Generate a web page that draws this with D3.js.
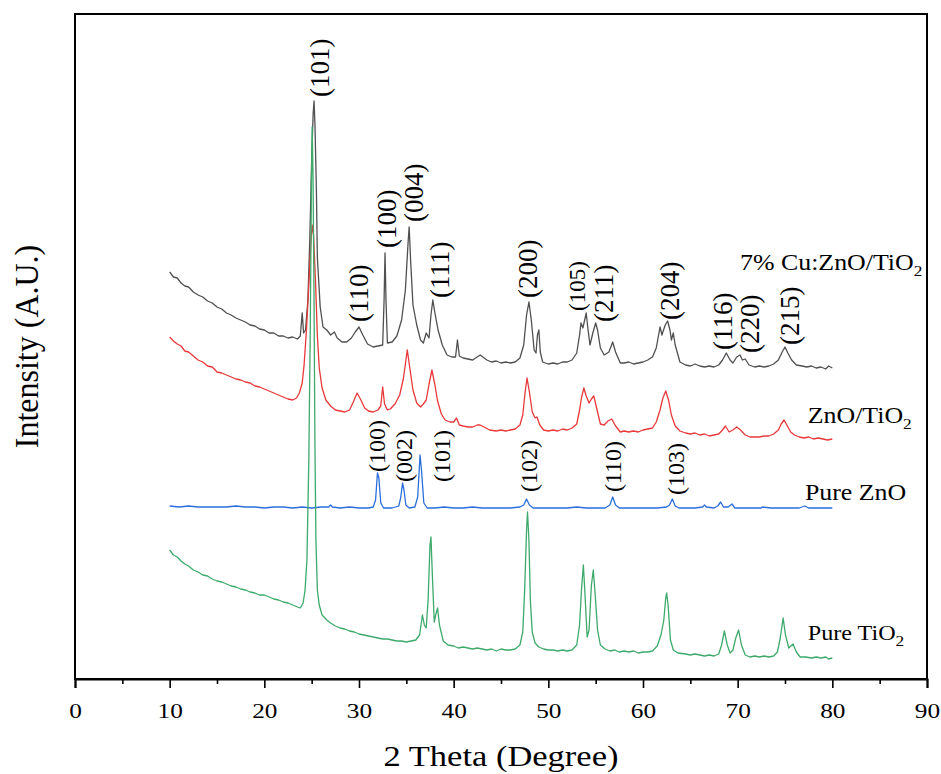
<!DOCTYPE html>
<html><head><meta charset="utf-8">
<script src="https://cdn.jsdelivr.net/npm/d3@7/dist/d3.min.js"></script>
<style>
body{margin:0;background:#fff}
svg text{font-family:"Liberation Serif","Times New Roman",serif;fill:#000}
</style>
</head><body>
<svg id="chart" width="941" height="774"></svg>
<script>
// ---------- data ----------
const xTicks = [0,10,20,30,40,50,60,70,80,90];
const xMinorTicks = [5,15,25,35,45,55,65,75,85];
const xTitle = "2 Theta (Degree)";
const yTitle = "Intensity (A.U.)";

const seriesNames = ["7% Cu:ZnO/TiO", "ZnO/TiO", "Pure ZnO", "Pure TiO"];
const seriesSubs  = ["2", "2", "", "2"];
const seriesColors = ["#505050", "#e8393a", "#2a6fdb", "#3daa6b"];
const seriesLabelTheta = [70.25, 77.4, 77.1, 77.4];
const seriesLabelIntensity = [81.8, 51.2, 35.8, 7.8];

// [2theta, intensity (a.u., stacked)]
const cuZnOTiO2 = [
[10.0,81.4],[10.4,80.4],[10.8,80.2],[11.2,79.2],[11.6,78.6],[12.0,78.4],[12.5,77.4],[13.0,76.8],[13.5,76.4],[14.0,75.6],
[14.5,75.2],[15.0,74.4],[15.5,74.0],[16.0,73.2],[16.5,72.8],[17.0,72.2],[17.5,71.8],[18.0,71.4],[18.5,70.8],[19.0,70.6],
[19.5,70.0],[20.0,69.8],[20.5,69.2],[21.0,69.2],[21.5,68.6],[22.0,68.6],[22.5,68.2],[23.0,68.4],[23.5,68.0],[23.8,68.6],
[24.0,73.2],[24.15,69.2],[24.35,69.8],[24.6,75.8],[24.8,87.8],[25.0,103.8],[25.15,112.8],[25.25,115.6],[25.35,110.8],[25.5,97.8],
[25.6,84.4],[25.9,74.4],[26.2,70.4],[26.6,69.8],[27.0,68.8],[27.4,69.4],[27.7,68.2],[28.2,67.4],[28.7,67.4],[29.2,68.2],
[29.6,69.4],[30.0,70.4],[30.4,68.8],[30.9,67.0],[31.5,66.4],[32.0,66.6],[32.5,66.8],[32.65,75.8],[32.75,85.2],[32.85,75.8],
[33.0,67.2],[33.5,67.4],[34.0,68.6],[34.5,71.8],[34.9,77.8],[35.2,87.8],[35.3,90.4],[35.45,83.8],[35.7,74.8],[36.1,70.8],
[36.5,67.8],[36.8,67.2],[37.1,69.2],[37.4,68.2],[37.6,72.8],[37.8,75.8],[38.0,73.4],[38.35,69.8],[38.8,66.8],[39.3,64.8],
[39.8,64.4],[40.2,64.4],[40.4,67.8],[40.6,64.6],[41.0,64.2],[41.5,64.0],[42.0,63.8],[42.8,64.8],[43.5,63.8],[44.0,63.4],
[44.5,63.6],[45.0,63.2],[45.5,63.4],[46.0,63.2],[46.5,63.4],[47.0,64.2],[47.4,66.8],[47.7,72.8],[47.95,75.4],[48.2,71.8],
[48.5,65.8],[48.7,65.2],[48.85,68.8],[49.0,69.8],[49.15,65.4],[49.4,63.4],[50.0,63.0],[50.5,63.2],[51.0,63.0],[51.5,63.4],
[52.0,63.4],[52.5,63.8],[53.0,65.2],[53.3,68.8],[53.45,71.2],[53.65,70.2],[54.0,73.2],[54.2,69.8],[54.4,66.8],[54.7,69.2],
[55.0,71.2],[55.2,69.8],[55.5,66.2],[55.9,64.8],[56.4,65.4],[56.8,67.4],[57.1,65.4],[57.6,63.2],[58.0,63.2],[58.5,63.4],
[59.0,63.0],[59.5,63.2],[60.0,63.4],[60.5,63.8],[61.0,64.4],[61.4,66.2],[61.8,70.4],[62.0,68.8],[62.1,69.4],[62.35,70.8],
[62.6,71.6],[62.85,69.8],[63.0,67.8],[63.2,69.2],[63.4,66.8],[63.9,63.4],[64.5,62.8],[65.0,62.6],[65.5,63.0],[66.0,62.6],
[66.5,62.4],[67.0,62.6],[67.5,62.4],[68.0,62.8],[68.4,63.8],[68.8,65.2],[69.2,63.8],[69.5,63.2],[69.9,64.4],[70.25,64.8],
[70.5,63.8],[70.8,64.0],[71.2,62.8],[71.8,62.4],[72.3,62.6],[72.8,62.4],[73.3,62.6],[73.8,63.0],[74.3,63.8],[74.7,65.4],
[75.0,66.4],[75.3,65.2],[75.7,63.8],[76.2,62.8],[76.8,62.6],[77.3,62.4],[77.8,62.6],[78.3,62.2],[78.8,62.4],[79.3,62.0],
[79.6,62.6],[80.0,62.2]
];

const znoTiO2 = [
[10.0,68.4],[10.4,67.6],[10.8,67.0],[11.2,66.6],[11.6,65.6],[12.0,65.4],[12.5,64.6],[13.0,63.8],[13.5,63.4],[14.0,62.6],
[14.5,62.4],[15.0,61.4],[15.5,61.2],[16.0,60.8],[16.5,60.4],[17.0,60.0],[17.5,59.8],[18.0,59.4],[18.5,59.2],[19.0,58.6],
[19.5,58.4],[20.0,58.0],[20.5,57.6],[21.0,57.2],[21.5,56.8],[22.0,56.4],[22.5,56.0],[23.0,55.8],[23.4,56.2],[23.7,57.2],
[24.0,59.2],[24.2,62.8],[24.45,69.8],[24.7,78.8],[24.9,86.8],[25.05,90.8],[25.2,88.8],[25.4,79.8],[25.6,68.8],[25.8,62.2],
[26.1,58.2],[26.5,55.8],[27.0,54.6],[27.5,53.8],[28.0,53.6],[28.5,53.4],[29.0,53.8],[29.4,55.4],[29.8,57.2],[30.2,55.8],
[30.6,54.2],[31.0,53.6],[31.5,53.4],[32.0,53.8],[32.3,54.6],[32.5,58.4],[32.7,55.0],[33.0,53.8],[33.3,54.0],[33.8,55.0],
[34.3,56.8],[34.7,60.2],[35.1,65.8],[35.4,61.8],[35.7,57.8],[36.1,55.2],[36.5,54.4],[36.8,55.0],[37.1,55.8],[37.4,59.0],
[37.7,61.8],[38.0,59.0],[38.3,55.6],[38.7,53.0],[39.1,51.8],[39.6,51.4],[40.0,51.4],[40.3,52.2],[40.6,50.8],[41.0,50.6],
[41.5,50.4],[42.0,50.4],[42.5,50.8],[42.8,50.8],[43.2,50.4],[43.8,49.8],[44.5,49.6],[45.0,49.8],[45.5,49.6],[46.0,49.8],
[46.5,50.0],[47.0,50.8],[47.3,52.8],[47.55,57.4],[47.75,60.2],[48.0,57.4],[48.3,53.4],[48.6,52.2],[48.8,52.4],[49.1,50.8],
[49.5,49.8],[50.0,49.6],[50.5,49.8],[51.0,49.6],[51.5,50.0],[52.0,49.8],[52.5,50.2],[53.0,51.0],[53.3,53.8],[53.5,56.2],
[53.75,58.2],[54.0,56.6],[54.3,55.2],[54.55,56.0],[54.8,56.6],[55.1,54.2],[55.5,51.0],[55.9,50.8],[56.3,51.6],[56.7,52.0],
[57.1,50.6],[57.6,49.4],[58.0,49.6],[58.5,49.4],[59.0,49.6],[59.5,49.4],[60.0,49.8],[60.5,50.0],[61.0,50.2],[61.4,51.4],
[61.8,53.8],[62.1,56.2],[62.4,57.6],[62.7,55.8],[63.0,52.8],[63.4,50.6],[63.9,49.6],[64.5,49.2],[65.0,49.0],[65.5,49.2],
[66.0,48.8],[66.5,49.0],[67.0,48.6],[67.5,48.8],[68.0,49.0],[68.4,49.8],[68.7,50.6],[69.1,49.4],[69.5,49.8],[69.9,50.4],
[70.3,49.8],[70.8,48.8],[71.3,48.4],[71.8,48.4],[72.3,48.4],[72.8,48.6],[73.3,48.6],[73.8,49.0],[74.3,49.8],[74.6,51.0],
[74.9,51.8],[75.2,50.8],[75.6,49.4],[76.0,48.8],[76.5,48.4],[77.0,48.2],[77.5,48.4],[78.0,48.0],[78.5,48.2],[79.0,48.0],
[79.5,47.8],[80.0,48.0]
];

const pureZnO = [
[10.0,34.6],[11.0,34.4],[12.0,34.6],[13.0,34.4],[14.0,34.4],[15.0,34.4],[16.0,34.4],[17.0,34.6],[18.0,34.4],[19.0,34.4],
[20.0,34.2],[21.0,34.4],[22.0,34.4],[23.0,34.2],[24.0,34.4],[25.0,34.2],[26.0,34.4],[26.8,34.4],[27.0,34.8],[27.2,34.4],
[28.0,34.2],[29.0,34.4],[30.0,34.2],[31.0,34.2],[31.5,34.4],[31.75,35.8],[31.95,41.2],[32.1,40.2],[32.3,35.2],[32.6,34.2],
[33.5,34.2],[34.2,34.6],[34.4,36.2],[34.6,39.2],[34.75,37.8],[34.95,34.8],[35.3,34.2],[35.9,34.4],[36.2,36.4],[36.45,44.8],
[36.6,41.8],[36.85,35.2],[37.2,34.2],[38.0,34.2],[39.0,34.4],[40.0,34.2],[41.0,34.2],[42.0,34.4],[43.0,34.2],[44.0,34.2],
[45.0,34.2],[46.0,34.2],[47.0,34.4],[47.4,34.8],[47.7,36.0],[48.0,34.8],[48.4,34.2],[49.0,34.2],[50.0,34.2],[51.0,34.2],
[52.0,34.2],[53.0,34.4],[54.0,34.2],[55.0,34.2],[56.0,34.2],[56.5,34.8],[56.8,36.4],[57.1,34.8],[57.5,34.2],[58.5,34.2],
[59.5,34.2],[60.5,34.2],[61.5,34.2],[62.5,34.4],[62.8,34.8],[63.1,36.0],[63.4,34.6],[63.8,34.2],[64.5,34.2],[65.5,34.2],
[66.3,34.4],[66.5,34.8],[66.7,34.4],[67.5,34.2],[67.9,34.6],[68.2,35.4],[68.5,34.4],[69.0,34.4],[69.4,35.0],[69.7,34.2],
[70.5,34.2],[71.5,34.2],[72.5,34.2],[72.6,34.4],[73.5,34.2],[74.5,34.2],[75.5,34.2],[76.5,34.2],[77.1,34.6],[77.5,34.2],
[78.5,34.2],[79.5,34.2],[80.0,34.2]
];

const pureTiO2 = [
[10.0,25.8],[10.4,24.8],[10.8,24.4],[11.2,23.6],[11.6,23.0],[12.0,22.6],[12.5,21.8],[13.0,21.4],[13.5,20.8],[14.0,20.6],
[14.5,20.0],[15.0,19.6],[15.5,19.4],[16.0,19.0],[16.5,18.6],[17.0,18.4],[17.5,18.0],[18.0,17.8],[18.5,17.4],[19.0,17.2],
[19.5,16.8],[20.0,16.8],[20.5,16.4],[21.0,16.0],[21.5,15.8],[22.0,15.4],[22.5,15.2],[23.0,14.8],[23.5,14.4],[23.8,14.2],
[24.1,15.2],[24.3,17.8],[24.5,23.8],[24.7,43.8],[24.85,69.8],[24.98,99.8],[25.05,110.4],[25.15,99.8],[25.25,75.8],[25.35,45.8],
[25.45,27.8],[25.6,17.8],[25.8,14.8],[26.1,12.8],[26.6,11.8],[27.0,11.2],[27.5,10.6],[28.0,10.2],[28.5,10.0],[29.0,9.6],
[29.5,9.4],[30.0,9.0],[30.5,8.8],[31.0,8.6],[31.5,8.4],[32.0,8.2],[32.5,8.0],[33.0,8.0],[33.5,7.8],[34.0,7.6],
[34.5,7.6],[35.0,7.4],[35.5,7.6],[36.0,7.8],[36.4,8.8],[36.7,12.8],[36.9,10.8],[37.1,10.2],[37.3,15.8],[37.5,26.8],
[37.6,28.4],[37.75,20.8],[37.95,11.4],[38.1,12.8],[38.3,14.2],[38.5,10.8],[38.9,7.6],[39.4,6.8],[40.0,6.6],[40.5,6.2],
[41.0,6.4],[41.5,6.2],[42.0,6.0],[42.5,6.2],[43.0,6.0],[43.5,5.8],[44.0,6.0],[44.5,5.6],[45.0,6.0],[45.5,5.8],
[46.0,5.8],[46.5,6.0],[47.0,6.8],[47.3,9.4],[47.5,17.8],[47.7,29.8],[47.8,33.4],[47.95,27.8],[48.1,15.8],[48.3,9.4],
[48.6,7.2],[49.0,6.4],[49.5,6.0],[50.0,5.8],[50.5,5.8],[51.0,5.6],[51.5,5.8],[52.0,5.6],[52.5,5.8],[53.0,6.8],
[53.3,10.8],[53.5,17.8],[53.7,22.8],[53.85,17.8],[54.1,8.4],[54.3,9.8],[54.55,18.8],[54.75,21.8],[54.95,16.8],[55.2,9.8],
[55.5,6.8],[56.0,6.0],[56.5,5.6],[57.0,5.8],[57.5,5.4],[58.0,5.6],[58.5,5.4],[59.0,5.6],[59.5,5.2],[60.0,5.4],
[60.5,5.4],[61.0,5.6],[61.5,6.6],[61.9,8.8],[62.2,11.8],[62.4,16.2],[62.5,17.2],[62.65,14.8],[62.9,7.8],[63.2,5.8],
[63.7,5.2],[64.5,5.0],[65.0,4.8],[65.5,5.0],[66.0,4.8],[66.5,4.6],[67.0,4.8],[67.5,4.6],[68.0,5.0],[68.3,6.8],
[68.6,9.6],[68.9,6.8],[69.2,5.2],[69.5,5.8],[69.8,8.2],[70.1,9.8],[70.4,6.8],[70.8,4.8],[71.3,4.4],[71.8,4.6],
[72.3,4.4],[72.8,4.6],[73.3,4.4],[73.8,4.6],[74.2,5.4],[74.5,8.2],[74.8,12.2],[75.05,8.8],[75.4,6.2],[75.85,7.0],
[76.2,5.4],[76.6,4.4],[77.2,4.4],[77.8,4.2],[78.3,4.4],[78.8,4.2],[79.3,4.4],[79.6,4.0],[80.0,4.2]
];

// Miller-index annotations (label centre 2theta, label start intensity)
const cuHklText = ["(101)","(110)","(100)","(004)","(111)","(200)","(105)","(211)","(204)","(116)","(220)","(215)"];
const cuHklTheta = [25.9, 30.0, 32.95, 35.8, 38.55, 47.85, 53.1, 55.9, 62.85, 68.45, 71.3, 75.5];
const cuHklIntensity = [116.4, 71.4, 86.2, 91.4, 76.2, 76.2, 73.6, 71.4, 71.8, 65.8, 65.2, 66.8];
const cuHklSize = [27, 27, 27, 27, 27, 27, 23, 27, 27, 27, 27, 27];

const znoHklText = ["(100)","(002)","(101)","(102)","(110)","(103)"];
const znoHklTheta = [31.9, 34.75, 38.75, 47.95, 56.8, 63.5];
const znoHklIntensity = [41.4, 39.4, 39.4, 37.4, 37.4, 36.8];

// ---------- chart ----------
const W = 941, H = 774;
const margin = {left: 75, right: 14, top: 14, bottom: 95};
const svg = d3.select("#chart");
const x = d3.scaleLinear().domain([0, 90]).range([margin.left, W - margin.right]);
const y = d3.scaleLinear().domain([0, 133]).range([H - margin.bottom, margin.top]);
const SX = 1.15; // horizontal glyph stretch of the original figure

const line = d3.line().x(d => x(d[0])).y(d => y(d[1]));
const allSeries = [cuZnOTiO2, znoTiO2, pureZnO, pureTiO2];
allSeries.forEach((s, i) => {
  svg.append("path").datum(s)
    .attr("d", line)
    .attr("fill", "none")
    .attr("stroke", seriesColors[i])
    .attr("stroke-width", 1.3)
    .attr("stroke-linejoin", "round");
});

// frame
svg.append("rect")
  .attr("x", x(0)).attr("y", y(133))
  .attr("width", x(90) - x(0)).attr("height", y(0) - y(133))
  .attr("fill", "none").attr("stroke", "#000").attr("stroke-width", 2);

// bottom axis
const gx = svg.append("g").attr("transform", `translate(0,${y(0)})`)
  .call(d3.axisBottom(x).tickValues(xTicks).tickSize(9).tickPadding(14).tickFormat(d3.format("d")));
gx.select(".domain").attr("stroke-width", 2);
gx.selectAll(".tick line").attr("stroke-width", 1.6);
gx.selectAll(".tick text").attr("font-size", 22).attr("transform", `scale(${SX},1)`)
  .style("font-family", '"Liberation Serif","Times New Roman",serif');
const gm = svg.append("g").attr("transform", `translate(0,${y(0)})`)
  .call(d3.axisBottom(x).tickValues(xMinorTicks).tickSize(5).tickFormat(""));
gm.select(".domain").remove();
gm.selectAll(".tick line").attr("stroke-width", 1.6);

// axis titles
svg.append("text")
  .attr("transform", `translate(${(x(0) + x(90)) / 2},766) scale(${SX},1)`)
  .attr("text-anchor", "middle").attr("font-size", 30).text(xTitle);
svg.append("text")
  .attr("transform", `translate(38,${(y(0) + y(133)) / 2}) scale(1.08,1) rotate(-90)`)
  .attr("text-anchor", "middle").attr("font-size", 32).text(yTitle);

// series labels
seriesNames.forEach((n, i) => {
  const t = svg.append("text")
    .attr("transform", `translate(${x(seriesLabelTheta[i])},${y(seriesLabelIntensity[i])}) scale(${SX},1)`)
    .attr("font-size", i === 3 ? 21 : 22.5);
  t.append("tspan").text(n);
  if (seriesSubs[i]) t.append("tspan").attr("font-size", 15).attr("dy", 6).text(seriesSubs[i]);
});

// hkl labels
function hkl(texts, thetas, ints, sizes) {
  texts.forEach((s, i) => {
    svg.append("text")
      .attr("transform", `translate(${x(thetas[i])},${y(ints[i])}) rotate(-90)`)
      .attr("text-anchor", "start")
      .attr("dominant-baseline", "central")
      .attr("font-size", sizes[i])
      .text(s);
  });
}
hkl(cuHklText, cuHklTheta, cuHklIntensity, cuHklSize);
hkl(znoHklText, znoHklTheta, znoHklIntensity, znoHklText.map(() => 24));
</script>
</body></html>
